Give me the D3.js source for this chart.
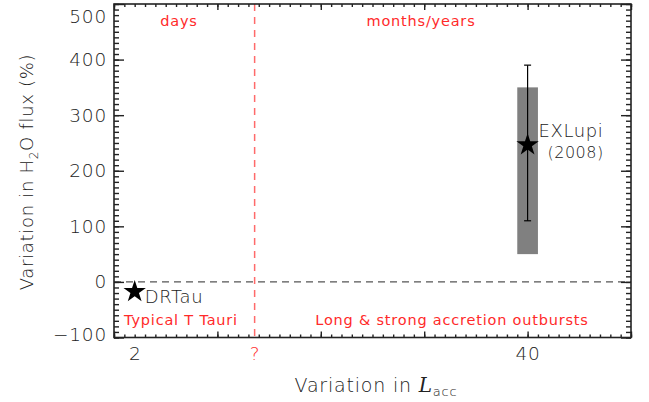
<!DOCTYPE html>
<html><head><meta charset="utf-8">
<script src="https://cdn.jsdelivr.net/npm/d3@7"></script>
<style>
body{margin:0;background:#fff;}
text{font-family:"DejaVu Sans",sans-serif;}
</style></head>
<body><svg id="c" width="649" height="402"></svg>
<script>
const objects = ["DRTau", "EXLupi"];
const laccVar = [2, 40];
const h2oVar = [-14, 250];
const errLow = [null, 110];
const errHigh = [null, 390];
const rangeBoxX = [39, 41];
const rangeBoxY = [50, 350];
const boundaryX = 13.6;
const xTickValues = [2, 13.6, 40];
const xTickLabels = ["2", "?", "40"];
const yTickValues = [-100, 0, 100, 200, 300, 400, 500];
const xDomain = [0, 50];
const yDomain = [-100, 500];

const svg = d3.select("#c");
const L = 114, R = 631, T = 4, B = 337.5;
const x = d3.scaleLinear().domain(xDomain).range([L, R]);
const y = d3.scaleLinear().domain(yDomain).range([B, T]);
const axCol = "#222";

// gray box
svg.append("rect").attr("x", x(rangeBoxX[0])).attr("width", x(rangeBoxX[1]) - x(rangeBoxX[0]))
  .attr("y", y(rangeBoxY[1])).attr("height", y(rangeBoxY[0]) - y(rangeBoxY[1])).attr("fill", "#808080");

// zero line
svg.append("line").attr("x1", L).attr("x2", R).attr("y1", y(0)).attr("y2", y(0))
  .attr("stroke", "#555").attr("stroke-width", 1.3).attr("stroke-dasharray", "7,5");
// boundary
svg.append("line").attr("x1", x(boundaryX)).attr("x2", x(boundaryX)).attr("y1", T).attr("y2", B)
  .attr("stroke", "#ff6a6a").attr("stroke-width", 1.5).attr("stroke-dasharray", "7,6");

// axes ticks
function styleAxis(g) {
  g.select(".domain").remove();
  g.selectAll(".tick line").attr("stroke", axCol).attr("stroke-width", 1.4);
  g.selectAll(".tick text").remove();
}
const yMinor = d3.range(-100, 501, 10);
const xMinor = d3.range(0, 51, 1);
const xMajor = d3.range(0, 51, 10);
svg.append("g").attr("transform", `translate(${L},0)`).call(d3.axisRight(y).tickValues(yMinor).tickSize(5)).call(styleAxis);
svg.append("g").attr("transform", `translate(${L},0)`).call(d3.axisRight(y).tickValues(yTickValues).tickSize(10)).call(styleAxis);
svg.append("g").attr("transform", `translate(${R},0)`).call(d3.axisLeft(y).tickValues(yMinor).tickSize(5)).call(styleAxis);
svg.append("g").attr("transform", `translate(${R},0)`).call(d3.axisLeft(y).tickValues(yTickValues).tickSize(10)).call(styleAxis);
svg.append("g").attr("transform", `translate(0,${B})`).call(d3.axisTop(x).tickValues(xMinor).tickSize(3)).call(styleAxis);
svg.append("g").attr("transform", `translate(0,${B})`).call(d3.axisTop(x).tickValues(xMajor).tickSize(6)).call(styleAxis);
svg.append("g").attr("transform", `translate(0,${T})`).call(d3.axisBottom(x).tickValues(xMinor).tickSize(3)).call(styleAxis);
svg.append("g").attr("transform", `translate(0,${T})`).call(d3.axisBottom(x).tickValues(xMajor).tickSize(6)).call(styleAxis);

// y labels
const yl = svg.append("g").attr("transform", `translate(${L},0)`)
  .call(d3.axisLeft(y).tickValues(yTickValues).tickSize(0).tickPadding(7));
yl.select(".domain").remove();
yl.selectAll("text").attr("font-size", 18.5).attr("fill", "#222").attr("font-family", "DejaVu Sans")
  .attr("font-weight", 200).attr("letter-spacing", 0.8)
  .attr("dy", d => d === 500 ? "1.0em" : (d === -100 ? "0.15em" : "0.32em"));
// x labels
const xl = svg.append("g").attr("transform", `translate(0,${B})`)
  .call(d3.axisBottom(x).tickValues(xTickValues).tickSize(0).tickPadding(9).tickFormat((d, i) => xTickLabels[i]));
xl.select(".domain").remove();
xl.selectAll("text").attr("font-size", 18.5).attr("font-family", "DejaVu Sans").attr("font-weight", 200).attr("letter-spacing", 0.8)
  .attr("fill", (d, i) => xTickLabels[i] === "?" ? "#ff3030" : "#222");

// frame
svg.append("rect").attr("x", L).attr("y", T).attr("width", R - L).attr("height", B - T)
  .attr("fill", "none").attr("stroke", axCol).attr("stroke-width", 1.6);

// error bars
objects.forEach((o, i) => {
  if (errLow[i] == null) return;
  const cx = x(laccVar[i]);
  svg.append("line").attr("x1", cx).attr("x2", cx).attr("y1", y(errLow[i])).attr("y2", y(errHigh[i])).attr("stroke", "#000").attr("stroke-width", 1.2);
  [errLow[i], errHigh[i]].forEach(v => svg.append("line").attr("x1", cx - 3.5).attr("x2", cx + 3.5).attr("y1", y(v)).attr("y2", y(v)).attr("stroke", "#000").attr("stroke-width", 1.2));
});

// stars
svg.selectAll("path.star").data(objects).enter().append("path").attr("class", "star")
  .attr("d", d3.symbol(d3.symbolStar, 155))
  .attr("transform", (d, i) => `translate(${x(laccVar[i])},${y(h2oVar[i]) + 2})`)
  .attr("fill", "#000");

// object labels
svg.append("text").attr("x", x(laccVar[0]) + 10).attr("y", y(h2oVar[0]) + 13).attr("font-size", 18).attr("font-weight", 200)
  .attr("letter-spacing", 0.6).attr("fill", "#222").text(objects[0]);
svg.append("text").attr("x", x(laccVar[1]) + 11).attr("y", y(h2oVar[1]) - 6).attr("font-size", 18).attr("font-weight", 200)
  .attr("letter-spacing", 0.6).attr("fill", "#222").text(objects[1]);
svg.append("text").attr("x", x(laccVar[1]) + 48).attr("y", y(h2oVar[1]) + 15).attr("text-anchor", "middle").attr("font-size", 16)
  .attr("font-weight", 200).attr("letter-spacing", 0.5).attr("fill", "#222").text("(2008)");

// red annotation texts
const red = "#ff2a2a";
function rt(t, cx, cy) {
  svg.append("text").attr("x", cx).attr("y", cy).attr("text-anchor", "middle").attr("dominant-baseline", "middle")
    .attr("font-size", 14.5).attr("letter-spacing", 0.8).attr("fill", red).text(t);
}
rt("days", 179, 22);
rt("months/years", 421, 22);
rt("Typical T Tauri", 181, 321);
rt("Long & strong accretion outbursts", 452, 321);

// titles
const yt = svg.append("text").attr("transform", `translate(33,172) rotate(-90)`).attr("text-anchor", "middle")
  .attr("font-size", 18).attr("font-weight", 200).attr("letter-spacing", 0.7).attr("fill", "#222");
yt.append("tspan").text("Variation in H");
yt.append("tspan").attr("font-size", 12).attr("dy", 5).text("2");
yt.append("tspan").attr("dy", -5).text("O flux (%)");
const xt = svg.append("text").attr("x", 376).attr("y", 392).attr("text-anchor", "middle")
  .attr("font-size", 19).attr("font-weight", 200).attr("letter-spacing", 0.8).attr("fill", "#222");
xt.append("tspan").text("Variation in ");
xt.append("tspan").attr("font-family", "DejaVu Serif").attr("font-style", "italic").attr("font-size", 20).text("L");
xt.append("tspan").attr("font-size", 13).attr("dy", 4).text("acc");
</script></body></html>
